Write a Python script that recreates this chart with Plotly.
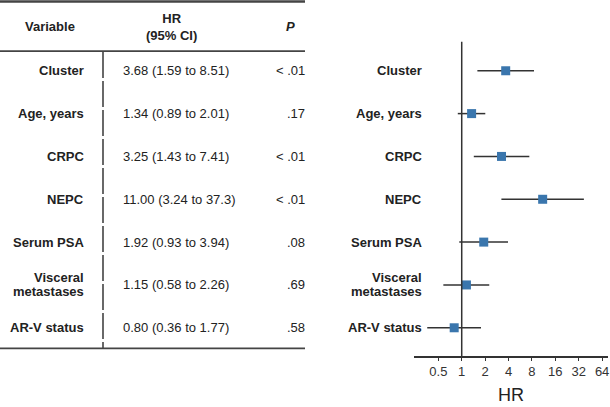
import plotly.graph_objects as go

variables = ["Cluster", "Age, years", "CRPC", "NEPC", "Serum PSA",
             "Visceral<br>metastases", "AR-V status"]
hr = [3.68, 1.34, 3.25, 11.00, 1.92, 1.15, 0.80]
ci_low = [1.59, 0.89, 1.43, 3.24, 0.93, 0.58, 0.36]
ci_high = [8.51, 2.01, 7.41, 37.3, 3.94, 2.26, 1.77]
hr_text = ["3.68 (1.59 to 8.51)", "1.34 (0.89 to 2.01)", "3.25 (1.43 to 7.41)",
           "11.00 (3.24 to 37.3)", "1.92 (0.93 to 3.94)", "1.15 (0.58 to 2.26)",
           "0.80 (0.36 to 1.77)"]
p_text = ["< .01", ".17", "< .01", "< .01", ".08", ".69", ".58"]
tick_vals = [0.5, 1, 2, 4, 8, 16, 32, 64]
tick_text = ["0.5", "1", "2", "4", "8", "16", "32", "64"]

W, H = 610, 407
rows = list(range(len(variables)))
PX = 42.8  # px per row unit
PLOT_H = 355.7
DARK = "#333333"
FONT = "Liberation Sans, Arial, sans-serif"

def px_to_y(py):
    return (py - 70.7) / PX

fig = go.Figure()

# CI lines
lx, ly = [], []
for i, (lo, hi) in enumerate(zip(ci_low, ci_high)):
    lx += [lo, hi, None]
    ly += [i, i, None]
fig.add_trace(go.Scatter(x=lx, y=ly, mode="lines",
                         line=dict(color=DARK, width=1.5),
                         hoverinfo="skip", showlegend=False))
fig.add_trace(go.Scatter(x=hr, y=rows, mode="markers",
                         marker=dict(symbol="square", size=9, color="#3a76ad"),
                         showlegend=False))

# reference line at HR = 1
fig.add_shape(type="line", xref="x", yref="y", x0=1, x1=1,
              y0=px_to_y(41.7), y1=px_to_y(PLOT_H),
              line=dict(color=DARK, width=1.5))

# table lines
fig.add_shape(type="line", xref="paper", yref="y", x0=0, x1=305 / W,
              y0=px_to_y(1.5), y1=px_to_y(1.5), line=dict(color="#444444", width=2.5))
fig.add_shape(type="line", xref="paper", yref="y", x0=0, x1=305 / W,
              y0=px_to_y(51), y1=px_to_y(51), line=dict(color="#444444", width=1.8))
fig.add_shape(type="line", xref="paper", yref="y", x0=0, x1=305 / W,
              y0=px_to_y(348), y1=px_to_y(348), line=dict(color="#444444", width=1.8))
fig.add_shape(type="line", xref="paper", yref="y", x0=103 / W, x1=103 / W,
              y0=px_to_y(52), y1=px_to_y(348),
              line=dict(color="#444444", width=1.6, dash="26px,3px"))

ann = []
def add(text, x, y, xanchor, size=13, bold=True, italic=False, color="#222222"):
    t = text
    if bold:
        t = "<b>" + t + "</b>"
    if italic:
        t = "<i>" + t + "</i>"
    ann.append(dict(text=t, x=x, y=y, xref="paper", yref="y", xanchor=xanchor,
                    yanchor="middle", showarrow=False, borderpad=0,
                    font=dict(family=FONT, size=size, color=color)))

# headers
add("Variable", 50 / W, px_to_y(26), "center")
add("HR<br>(95% CI)", 171 / W, px_to_y(26.5), "center")
add("P", 290 / W, px_to_y(26), "center", italic=True)

half = 7.0 / PX
for i, name in enumerate(variables):
    parts = name.split("<br>")
    if len(parts) == 1:
        offs = [0]
    else:
        offs = [-half, half]
    for part, o in zip(parts, offs):
        add(part, 85 / W, i + o, "right")
        add(part, 423 / W, i + o, "right")
    add(hr_text[i], 122 / W, i, "left", bold=False)
    add(p_text[i], 306 / W, i, "right", bold=False)

# x-axis title
ann.append(dict(text="HR", x=0.5, y=(PLOT_H - 395) / PLOT_H, xref="x domain",
                yref="paper", xanchor="center", yanchor="middle", showarrow=False,
                font=dict(family=FONT, size=18, color="#222222")))

fig.update_layout(
    width=W, height=H,
    margin=dict(l=0, r=0, t=0, b=H - PLOT_H, autoexpand=False),
    paper_bgcolor="white", plot_bgcolor="white",
    annotations=ann,
    font=dict(family=FONT),
    xaxis=dict(type="log", domain=[414 / W, 608 / W],
               range=[-0.614, 1.882],
               tickvals=tick_vals, ticktext=tick_text,
               showgrid=False, zeroline=False, showline=True,
               linecolor=DARK, linewidth=1.5,
               ticks="outside", ticklen=3, tickcolor=DARK, tickwidth=1.2,
               tickfont=dict(family=FONT, size=13, color="#333333")),
    yaxis=dict(range=[px_to_y(PLOT_H), px_to_y(0)], showgrid=False,
               zeroline=False, showline=False, showticklabels=False),
)

fig.write_html("out.html", config={"displayModeBar": False},
               post_script="document.body.style.margin='0';document.body.style.overflow='hidden';")
